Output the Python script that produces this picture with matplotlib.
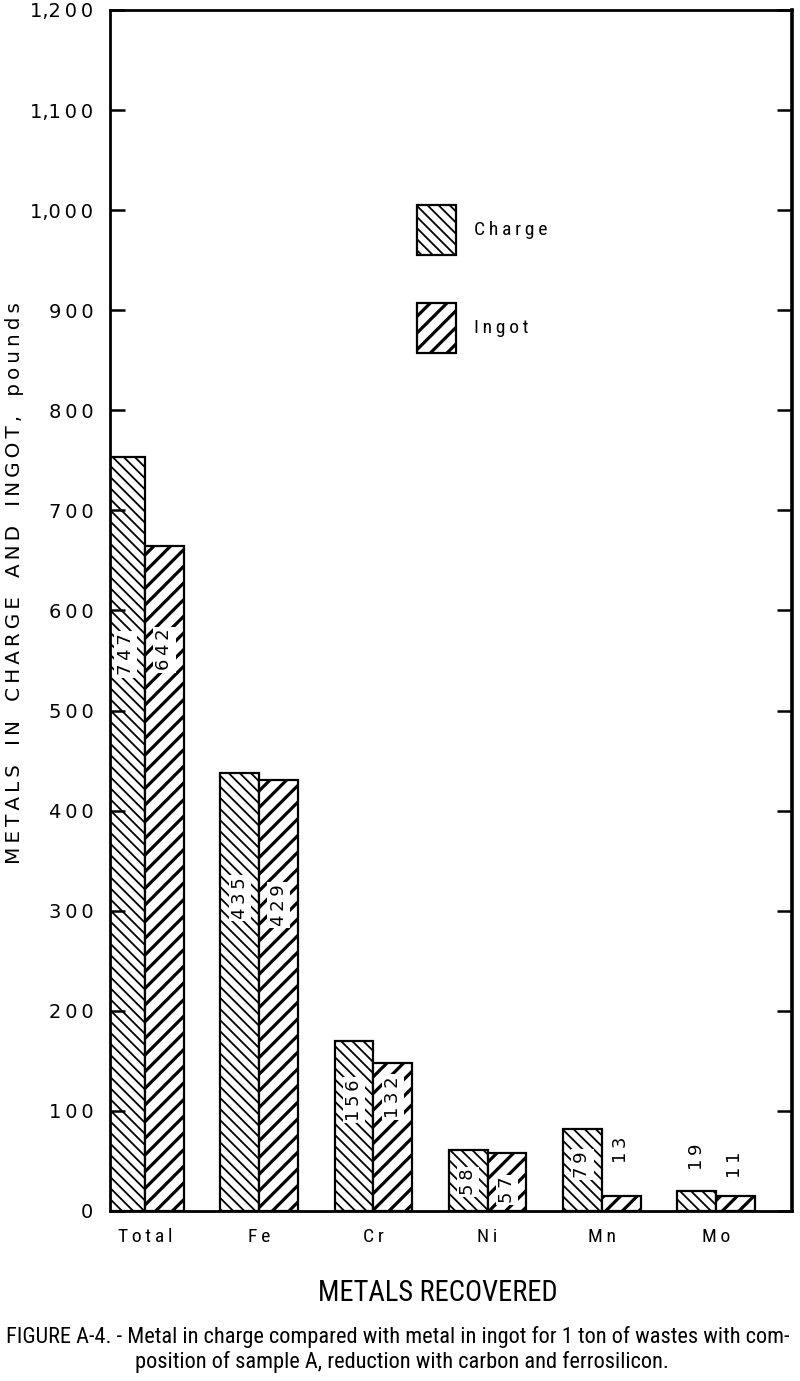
import numpy as np
import matplotlib
matplotlib.use("Agg")
import matplotlib.pyplot as plt
from matplotlib import font_manager
from matplotlib.patches import Rectangle

# data
metals = ["Total", "Fe", "Cr", "Ni", "Mn", "Mo"]
charge = [753, 438, 170, 61, 82, 20]     # bar heights as drawn
ingot = [664, 431, 148, 58, 15, 15]
charge_txt = ["747", "435", "156", "58", "79", "19"]   # printed values
ingot_txt = ["642", "429", "132", "57", "13", "11"]
yticks = [0, 100, 200, 300, 400, 500, 600, 700, 800, 900, 1000, 1100, 1200]
ytick_txt = ["0", "100", "200", "300", "400", "500", "600", "700", "800",
             "900", "1,000", "1,100", "1,200"]

# where the printed values sit (y centre, data units)
charge_txt_y = [556, 313, 111, 29, 46, 54]
ingot_txt_y = [561, 306, 114, 21, 61, 46]

# pick a narrow face for the lettering if one is around
names = {f.name for f in font_manager.fontManager.ttflist}
narrow = dict(family="DejaVu Sans")
nscale = 0.9
for cand in ["Roboto Condensed", "Liberation Sans Narrow", "Open Sans Condensed"]:
    if cand in names:
        narrow = dict(family=cand)
        nscale = 1.08
        break


def spaced(s):
    return "\u2009".join(s)


def tick_txt(s):
    # keep "1," tight like the original lettering
    if "," in s:
        head, tail = s.split(",")
        return head + "," + spaced(tail)
    return spaced(s)


fig = plt.figure(figsize=(8, 13.81), dpi=100)
ax = fig.add_axes([0.1375, 1 - 1211 / 1381, 0.99 - 0.1375, 1201 / 1381])

x = np.arange(len(metals))
w = 0.34

plt.rcParams["hatch.linewidth"] = 1.3
bc = ax.bar(x - w / 2, charge, w, color="white", edgecolor="black",
            linewidth=1.6, hatch="\\\\\\")
bi = ax.bar(x + w / 2, ingot, w, color="white", edgecolor="black",
            linewidth=1.6, hatch="//")
for b in bi:
    if hasattr(b, "set_hatch_linewidth"):
        b.set_hatch_linewidth(2.3)

for i in range(len(metals)):
    ax.text(x[i] - w / 2, charge_txt_y[i], spaced(charge_txt[i]), rotation=90,
            ha="center", va="center", fontsize=13,
            bbox=dict(facecolor="white", edgecolor="none", pad=1.5))
    ax.text(x[i] + w / 2, ingot_txt_y[i], spaced(ingot_txt[i]), rotation=90,
            ha="center", va="center", fontsize=13,
            bbox=dict(facecolor="white", edgecolor="none", pad=1.5))

ax.set_xlim(-0.306, 5.665)
ax.set_ylim(0, 1200)
ax.set_yticks(yticks)
ax.set_yticklabels([tick_txt(t) for t in ytick_txt], fontsize=14)
ax.tick_params(axis="y", direction="in", length=11, width=1.8, pad=12,
               right=True)
ax.set_xticks(x)
ax.set_xticklabels([spaced(m) for m in metals], fontsize=13 * nscale, **narrow)
ax.tick_params(axis="x", length=0, pad=12)
for s in ax.spines.values():
    s.set_linewidth(2)
ax.spines["right"].set_linewidth(2.6)

# legend drawn by hand
for yy, h, lab in [(205, "\\\\\\", "Charge"), (303, "//", "Ingot")]:
    r = Rectangle(((417 - 110) / 682, 1 - (yy + 50 - 10) / 1201),
                  39 / 682, 50 / 1201, transform=ax.transAxes,
                  facecolor="white", edgecolor="black", linewidth=1.6,
                  hatch=h)
    ax.add_patch(r)
    if h == "//" and hasattr(r, "set_hatch_linewidth"):
        r.set_hatch_linewidth(2.3)
    ax.text((474 - 110) / 682, 1 - (yy + 25 - 10) / 1201, spaced(lab),
            transform=ax.transAxes, fontsize=13 * nscale, va="center",
            ha="left", **narrow)

ylab = "   ".join(spaced(wd) for wd in ["METALS", "IN", "CHARGE", "AND", "INGOT,", "pounds"])
fig.text(15 / 800, 1 - 583 / 1381, ylab, rotation=90, ha="center",
         va="center", fontsize=14.4)
fig.text(438 / 800, 1 - 1293 / 1381, "METALS RECOVERED", ha="center",
         va="center", fontsize=19 * nscale, **narrow)
fig.text(0.497, 1 - 1337 / 1381,
         "FIGURE A-4. - Metal in charge compared with metal in ingot for 1 ton of wastes with com-",
         ha="center", va="center", fontsize=14.9 * nscale, **narrow)
fig.text(0.503, 1 - 1362 / 1381,
         "position of sample A, reduction with carbon and ferrosilicon.",
         ha="center", va="center", fontsize=14.9 * nscale, **narrow)

fig.savefig("out.png", dpi=100)
